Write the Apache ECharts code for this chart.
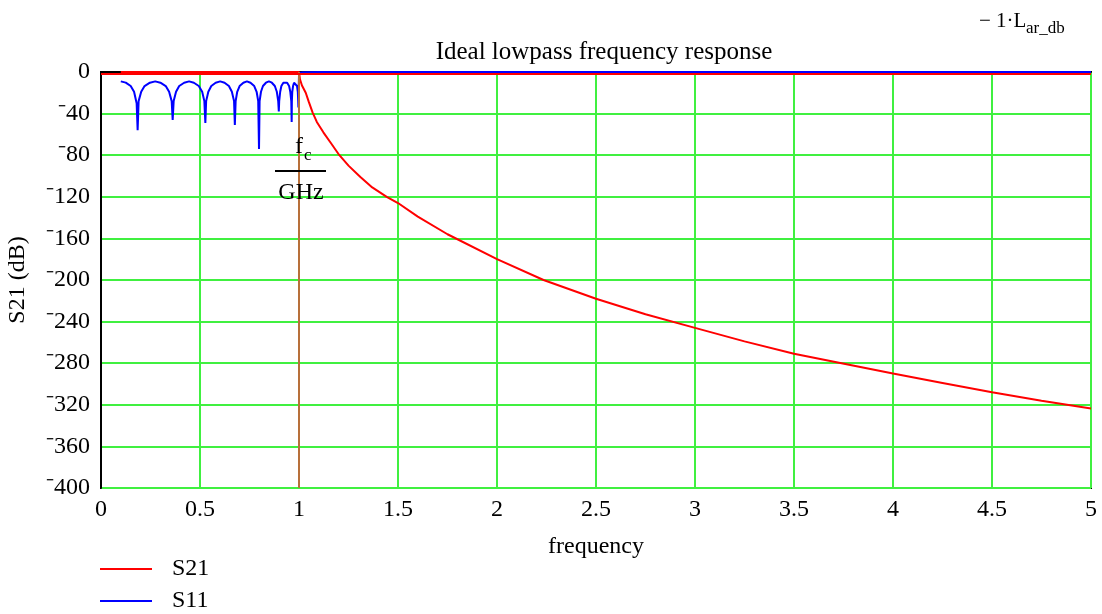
<!DOCTYPE html>
<html>
<head>
    <meta charset="utf-8">
    <style>
        html, body { margin: 0; padding: 0; background: #fff; }
        #chart { width: 1102px; height: 614px; }
    </style>
    <script src="https://cdn.jsdelivr.net/npm/echarts@6/dist/echarts.min.js"></script>
</head>
<body>
<div id="chart"></div>
<script>
    // S21 (red), GHz / dB
    var s21Freq = [0.1, 1.0, 1.005, 1.015, 1.034, 1.05, 1.069, 1.09, 1.123, 1.16,
        1.204, 1.25, 1.31, 1.37, 1.443, 1.5, 1.6, 1.75, 2.0, 2.235,
        2.5, 2.75, 3.0, 3.25, 3.5, 3.74, 4.0, 4.25, 4.5, 4.75, 5.0];
    var s21Db = [0, 0, -7, -13, -20, -29, -39, -48, -58, -68,
        -80, -90, -101, -111, -120, -126, -139, -156, -180, -200,
        -218, -233, -246, -259, -271, -280, -290, -299, -308, -316, -323.5];

    // S11 (blue) ripple lobes
    var s11Freq = [0.100, 0.125, 0.150, 0.167, 0.180, 0.185,
        0.190, 0.203, 0.220, 0.247, 0.274, 0.300, 0.327, 0.344, 0.357, 0.362,
        0.367, 0.379, 0.395, 0.420, 0.445, 0.469, 0.494, 0.511, 0.522, 0.527,
        0.531, 0.542, 0.557, 0.579, 0.602, 0.624, 0.646, 0.661, 0.672, 0.676,
        0.680, 0.688, 0.700, 0.719, 0.737, 0.755, 0.774, 0.786, 0.794, 0.798,
        0.801, 0.808, 0.818, 0.833, 0.848, 0.863, 0.878, 0.888, 0.895, 0.898,
        0.900, 0.905, 0.911, 0.921, 0.931, 0.940, 0.950, 0.956, 0.961, 0.963,
        0.964, 0.966, 0.970, 0.975, 0.980, 0.985, 0.990, 0.994, 0.996, 0.997,
        0.9985, 1.000, 1.005, 1.020, 1.100, 5.000];
    var s11Db = [-9, -10.2, -13.5, -19, -30, -56,
        -28, -19, -13.5, -10.3, -9, -10.3, -13.5, -19, -28, -46,
        -28, -19, -13.5, -10.3, -9, -10.3, -13.5, -19, -28, -49,
        -28, -19, -13.5, -10.3, -9, -10.3, -13.5, -19, -28, -51,
        -28, -19, -13.5, -10.3, -9, -10.3, -13.5, -19, -28, -74,
        -28, -19, -13.5, -10.3, -9, -10.3, -13.5, -19, -28, -38,
        -28, -19, -13.5, -10.3, -9, -10.3, -13.5, -19, -28, -48,
        -28, -19, -13.5, -10.3, -9.5, -10.3, -13.5, -19, -28, -34,
        -15, -3, -0.6, -0.2, 0, 0];

    var cutoff = 1;         // fc / GHz marker
    var rippleLevel = -1.5; // -1*L_ar_db marker

    function pairs(xs, ys) {
        var out = [];
        for (var i = 0; i < xs.length; i++) out.push([xs[i], ys[i]]);
        return out;
    }

    var FONT = '"Liberation Serif", "Times New Roman", serif';
    var myChart = echarts.init(document.getElementById('chart'));
    var option = {
        animation: false,
        backgroundColor: '#fff',
        grid: {
            left: 101, right: 11, top: 72, bottom: 126,
            show: true, borderColor: '#000', borderWidth: 2
        },
        legend: {
            data: ['S21', 'S11'],
            orient: 'vertical',
            left: 95, top: 552, height: 70,
            icon: 'rect',
            itemWidth: 52, itemHeight: 2,
            itemGap: 8,
            textStyle: { fontFamily: FONT, fontSize: 24, color: '#000', padding: [0, 0, 0, 15] }
        },
        xAxis: {
            type: 'value',
            min: 0, max: 5, interval: 0.5,
            axisLine: { show: true, lineStyle: { color: '#000', width: 2 } },
            axisTick: { show: false },
            axisLabel: { fontFamily: FONT, fontSize: 24, color: '#000', margin: 10 },
            splitLine: { show: true, lineStyle: { color: '#40f040', width: 2 } }
        },
        yAxis: {
            type: 'value',
            min: -400, max: 0, interval: 40,
            axisLine: { show: true, lineStyle: { color: '#000', width: 2 } },
            axisTick: { show: false },
            axisLabel: {
                fontFamily: FONT, fontSize: 24, color: '#000', margin: 11,
                formatter: function (v) { return v < 0 ? '\u207B' + (-v) : String(v); }
            },
            splitLine: { show: true, lineStyle: { color: '#40f040', width: 2 } }
        },
        graphic: [
            { type: 'text', x: 604, y: 52, style: { text: 'Ideal lowpass frequency response', font: '25px ' + FONT, fill: '#000', textAlign: 'center', textVerticalAlign: 'middle' } },
            { type: 'text', x: 596, y: 547, style: { text: 'frequency', font: '24px ' + FONT, fill: '#000', textAlign: 'center', textVerticalAlign: 'middle' } },
            { type: 'text', x: 18, y: 280, rotation: Math.PI / 2, style: { text: 'S21 (dB)', font: '24px ' + FONT, fill: '#000', textAlign: 'center', textVerticalAlign: 'middle' } },
            { type: 'text', x: 979, y: 21, style: { text: '\u2212 1\u00B7L', font: '21px ' + FONT, fill: '#000', textAlign: 'left', textVerticalAlign: 'middle' } },
            { type: 'text', x: 1026, y: 29, style: { text: 'ar_db', font: '17px ' + FONT, fill: '#000', textAlign: 'left', textVerticalAlign: 'middle' } },
            { type: 'text', z: 100, x: 299, y: 147, style: { text: 'f', font: '24px ' + FONT, fill: '#000', textAlign: 'center', textVerticalAlign: 'middle' } },
            { type: 'text', z: 100, x: 304, y: 156, style: { text: 'c', font: '17px ' + FONT, fill: '#000', textAlign: 'left', textVerticalAlign: 'middle' } },
            { type: 'line', z: 100, shape: { x1: 275, y1: 171, x2: 326, y2: 171 }, style: { stroke: '#000', lineWidth: 2 } },
            { type: 'text', z: 100, x: 301, y: 193, style: { text: 'GHz', font: '24px ' + FONT, fill: '#000', textAlign: 'center', textVerticalAlign: 'middle' } }
        ],
        series: [
            {
                name: 'S21',
                type: 'line',
                data: pairs(s21Freq, s21Db),
                showSymbol: false,
                lineStyle: { color: '#ff0000', width: 2 },
                itemStyle: { color: '#ff0000' },
                markLine: {
                    silent: true,
                    symbol: 'none',
                    label: { show: false },
                    data: [
                        { xAxis: cutoff, lineStyle: { color: '#b8703a', width: 2, type: 'solid' } },
                        { yAxis: rippleLevel, lineStyle: { color: '#ff0000', width: 2, type: 'solid' } }
                    ]
                }
            },
            {
                name: 'S11',
                type: 'line',
                data: pairs(s11Freq, s11Db),
                showSymbol: false,
                lineStyle: { color: '#0000ff', width: 2 },
                itemStyle: { color: '#0000ff' }
            }
        ]
    };
    myChart.setOption(option);
</script>
</body>
</html>
